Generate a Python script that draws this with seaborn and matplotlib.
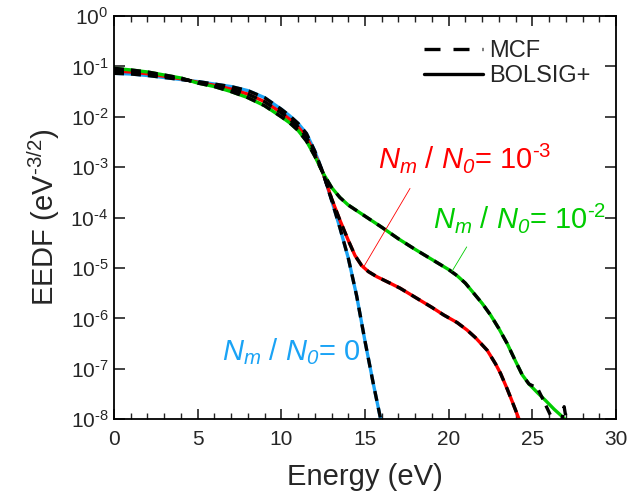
import numpy as np
import pandas as pd
import matplotlib
matplotlib.use("Agg")
import matplotlib.pyplot as plt
import seaborn as sns
from matplotlib.ticker import LogLocator, NullLocator, MultipleLocator, FuncFormatter
from matplotlib.lines import Line2D

# ---------------- data (log10 of EEDF) ----------------
E_blue = [0, 1, 2, 3, 4, 5, 6, 7, 8, 9, 10, 10.5, 11, 11.5, 12, 12.5, 13, 13.5, 14, 14.5, 15, 15.5, 16]
logf_blue = [-1.137, -1.15, -1.18, -1.22, -1.26, -1.30, -1.35, -1.40, -1.48, -1.62, -1.85, -1.98,
             -2.13, -2.33, -2.68, -3.12, -3.65, -4.2, -4.8, -5.55, -6.45, -7.3, -8.1]

E_red = [0, 1, 2, 3, 4, 5, 6, 7, 8, 9, 10, 10.5, 11, 11.5, 12, 12.5, 13, 13.5, 14, 14.4, 14.8, 15.2,
         15.7, 16.5, 17.1, 18.1, 19, 19.7, 20.5, 21.1, 21.6, 22.3, 22.8, 23.1, 23.5, 23.8, 24.0, 24.3]
logf_red = [-1.09, -1.11, -1.145, -1.195, -1.245, -1.315, -1.375, -1.45, -1.55, -1.70, -1.92, -2.05,
            -2.2, -2.4, -2.74, -3.12, -3.62, -4.05, -4.45, -4.75, -4.95, -5.07,
            -5.17, -5.30, -5.40, -5.60, -5.78, -5.93, -6.08, -6.23, -6.38, -6.63, -6.90, -7.09, -7.40, -7.65, -7.82, -8.08]

E_green = [0, 1, 2, 3, 4, 5, 6, 7, 8, 9, 10, 10.5, 11, 11.5, 12, 12.5, 13, 13.5, 14, 15, 16, 17, 18,
           19, 20, 20.5, 21, 21.5, 22, 22.5, 23, 23.5, 24, 24.4, 24.8, 25.3, 25.8, 26.3, 26.8, 27.2]
logf_green = [-1.038, -1.07, -1.11, -1.17, -1.23, -1.33, -1.40, -1.50, -1.62, -1.78, -2.0, -2.12,
              -2.27, -2.48, -2.78, -3.12, -3.40, -3.60, -3.75, -3.97, -4.19, -4.42, -4.63,
              -4.83, -5.03, -5.15, -5.30, -5.50, -5.70, -5.93, -6.2, -6.5, -6.85, -7.12, -7.3, -7.47, -7.63, -7.8, -7.95, -8.08]

# MCF (Monte Carlo) green tail is noisy
E_green_mcf = [0, 1, 2, 3, 4, 5, 6, 7, 8, 9, 10, 10.5, 11, 11.5, 12, 12.5, 13, 13.5, 14, 15, 16, 17, 18,
               19, 20, 20.5, 21, 21.5, 22, 22.5, 23, 23.5, 24, 24.4, 24.8, 25.3, 25.6, 26.2, 26.5, 26.75, 26.9, 27.05]
logf_green_mcf = [-1.038, -1.07, -1.11, -1.17, -1.23, -1.33, -1.40, -1.50, -1.62, -1.78, -2.0, -2.12,
                  -2.27, -2.48, -2.78, -3.12, -3.40, -3.60, -3.75, -3.97, -4.19, -4.42, -4.63,
                  -4.83, -5.03, -5.15, -5.30, -5.50, -5.70, -5.93, -6.2, -6.5, -6.85, -7.12, -7.3, -7.38, -7.58, -8.0, -8.4, -8.05, -7.75, -8.05]

HY = "\u2010"
labels = [r"$N_{m}$ / $N_{\mathsf{0}}$= 10$^{" + HY + "3}$",
          r"$N_{m}$ / $N_{\mathsf{0}}$= 10$^{" + HY + "2}$",
          r"$N_{m}$ / $N_{\mathsf{0}}$= 0"]

# ---------------- style ----------------
sns.set_theme(style="ticks")
plt.rcParams["font.family"] = ["Liberation Sans", "DejaVu Sans"]
plt.rcParams["mathtext.fontset"] = "custom"
plt.rcParams["mathtext.rm"] = "Liberation Sans"
plt.rcParams["mathtext.it"] = "Liberation Sans:italic"
plt.rcParams["mathtext.sf"] = "Liberation Sans:italic"
plt.rcParams["mathtext.bf"] = "Liberation Sans:bold"
plt.rcParams["mathtext.default"] = "it"
plt.rcParams["axes.unicode_minus"] = False

c_blue = "#1AA3F5"
c_red = "#FF0000"
c_green = "#00CC00"

fig = plt.figure(figsize=(6.31, 5.03), dpi=100)
ax = fig.add_axes([114/631, 1-419.3/503, (616-114)/631, (419.3-16)/503])

def df(E, lf):
    return pd.DataFrame({"E": E, "f": 10.0 ** np.array(lf)})

dash = (0, (3.0, 2.1))
for E, lf, c in [(E_blue, logf_blue, c_blue), (E_red, logf_red, c_red), (E_green, logf_green, c_green)]:
    sns.lineplot(data=df(E, lf), x="E", y="f", ax=ax, color=c, lw=2.4, sort=False)
for E, lf in [(E_blue, logf_blue), (E_red, logf_red), (E_green_mcf, logf_green_mcf)]:
    sns.lineplot(data=df(E, lf), x="E", y="f", ax=ax, color="black", lw=2.4, linestyle=dash, sort=False)

def yfmt(v, pos):
    n = int(round(np.log10(v)))
    if n == 0:
        return r"$\mathrm{10^{0}}$"
    return r"$\mathrm{10^{" + HY + str(-n) + "}}$"

ax.set_yscale("log")
ax.set_xlim(0, 30)
ax.set_ylim(1e-8, 1)
ax.xaxis.set_major_locator(MultipleLocator(5))
ax.xaxis.set_minor_locator(MultipleLocator(1))
ax.yaxis.set_major_locator(LogLocator(base=10, numticks=20))
ax.yaxis.set_minor_locator(NullLocator())
ax.yaxis.set_major_formatter(FuncFormatter(yfmt))
ax.tick_params(which="both", direction="in", top=True, right=True, labelsize=15, color="#222222")
ax.tick_params(which="major", length=7, width=1.2)
ax.tick_params(which="minor", length=4, width=1.0)
ax.tick_params(axis="y", which="major", length=8)
ax.tick_params(axis="x", pad=8)
ax.tick_params(axis="y", pad=4)
for s in ax.spines.values():
    s.set_linewidth(1.3)
    s.set_color("black")

ax.set_xlabel("Energy (eV)", fontsize=21, labelpad=10)
ax.set_ylabel(r"EEDF (eV$\mathrm{^{" + HY + "3/2}}$)", fontsize=21, labelpad=6)

# annotations
ax.text(15.78, 10**-3.016, labels[0], color=c_red, fontsize=21, ha="left", va="baseline")
ax.text(19.07, 10**-4.206, labels[1], color=c_green, fontsize=21, ha="left", va="baseline")
ax.text(6.46, 10**-6.825, labels[2], color=c_blue, fontsize=21, ha="left", va="baseline")
ax.plot([17.69, 14.88], [10**-3.42, 10**-5.0], color=c_red, lw=0.6)
ax.plot([21.08, 20.19], [10**-4.58, 10**-5.07], color=c_green, lw=0.6)

handles = [Line2D([], [], color="black", lw=2.4, linestyle=(0, (4.8, 3.9))),
           Line2D([], [], color="black", lw=2.4)]
ax.legend(handles, ["MCF", "BOLSIG+"], loc="upper left", bbox_to_anchor=(0.617, 0.94),
          frameon=False, fontsize=17, handlelength=2.5, handletextpad=0.25,
          borderpad=0, borderaxespad=0, labelspacing=0.12)

fig.savefig("out.png", dpi=100)
